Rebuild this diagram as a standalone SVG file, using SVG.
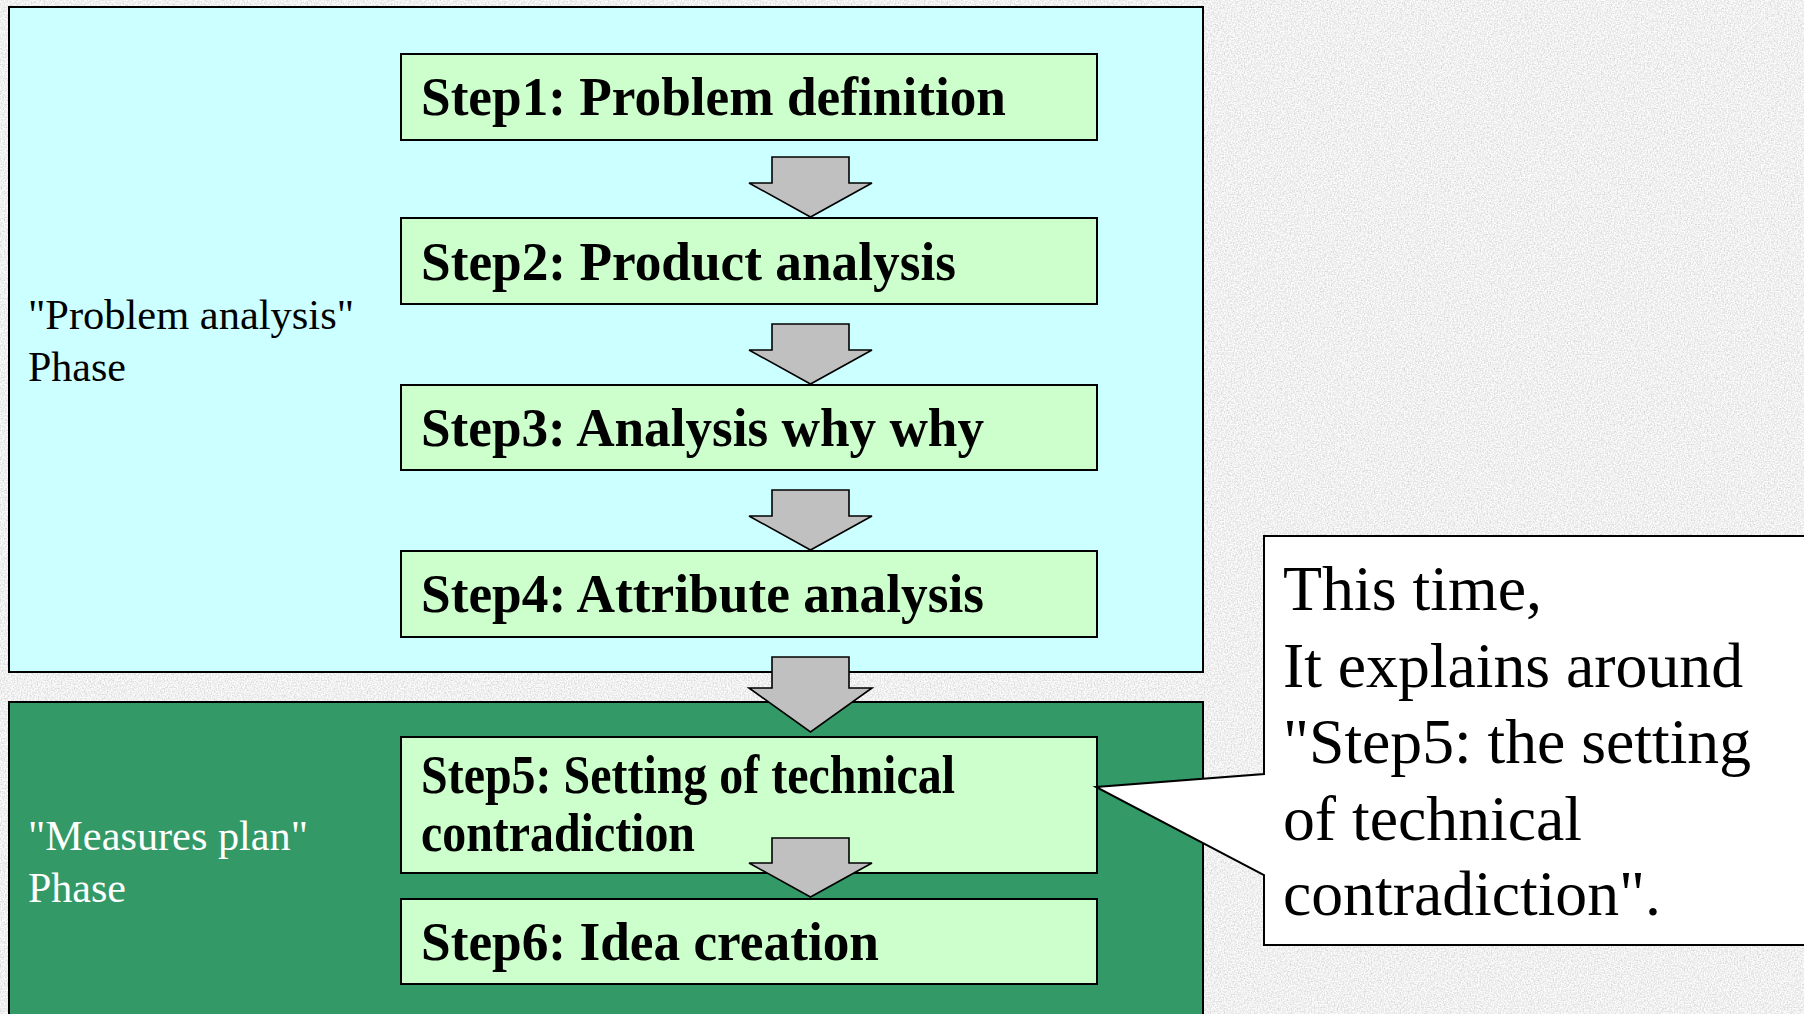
<svg xmlns="http://www.w3.org/2000/svg" width="1804" height="1014" viewBox="0 0 1804 1014">
<defs>
<filter id="noise" x="0" y="0" width="100%" height="100%">
<feTurbulence type="fractalNoise" baseFrequency="0.7" numOctaves="2" seed="3" result="t"/>
<feColorMatrix in="t" type="matrix" values="0.6 0 0 0 0.57  0.6 0 0 0 0.57  0.6 0 0 0 0.57  0 0 0 0 1"/>
</filter>
</defs>
<style>
.phase{stroke:#000;stroke-width:2}
.step rect{fill:#ccffcc;stroke:#000;stroke-width:2}
.st{font-family:"Liberation Serif","Times New Roman",serif;font-weight:bold;font-size:54px;fill:#000}
.pl{font-family:"Liberation Serif","Times New Roman",serif;font-size:42px}
.ct{font-family:"Liberation Serif","Times New Roman",serif;font-size:63px;fill:#000}
.ar{fill:#c0c0c0;stroke:#000;stroke-width:1.6;stroke-linejoin:miter}
</style>
<rect x="0" y="0" width="1804" height="1014" fill="#e0e0e0"/>
<rect x="0" y="0" width="1804" height="1014" filter="url(#noise)"/>

<g id="phase-problem">
<rect class="phase" x="9" y="7" width="1194" height="665" fill="#ccffff"/>
<text class="pl" fill="#000" x="28" y="329" textLength="326" lengthAdjust="spacingAndGlyphs">"Problem analysis"</text>
<text class="pl" fill="#000" x="28" y="381">Phase</text>
</g>
<g id="phase-measures">
<rect class="phase" x="9" y="702" width="1194" height="330" fill="#339966"/>
<text class="pl" fill="#fff" x="28" y="850" textLength="280" lengthAdjust="spacingAndGlyphs">"Measures plan"</text>
<text class="pl" fill="#fff" x="28" y="902">Phase</text>
</g>

<g id="step1" class="step"><rect x="401" y="54" width="696" height="86"/><text class="st" x="421" y="115" textLength="585" lengthAdjust="spacingAndGlyphs">Step1: Problem definition</text></g>
<g id="step2" class="step"><rect x="401" y="218" width="696" height="86"/><text class="st" x="421" y="280" textLength="535" lengthAdjust="spacingAndGlyphs">Step2: Product analysis</text></g>
<g id="step3" class="step"><rect x="401" y="385" width="696" height="85"/><text class="st" x="421" y="446" textLength="563" lengthAdjust="spacingAndGlyphs">Step3: Analysis why why</text></g>
<g id="step4" class="step"><rect x="401" y="551" width="696" height="86"/><text class="st" x="421" y="612" textLength="563" lengthAdjust="spacingAndGlyphs">Step4: Attribute analysis</text></g>
<g id="step5" class="step"><rect x="401" y="737" width="696" height="136"/><text class="st" x="421" y="793" textLength="534" lengthAdjust="spacingAndGlyphs">Step5: Setting of technical</text><text class="st" x="421" y="851" textLength="274" lengthAdjust="spacingAndGlyphs">contradiction</text></g>
<g id="step6" class="step"><rect x="401" y="899" width="696" height="85"/><text class="st" x="421" y="960" textLength="458" lengthAdjust="spacingAndGlyphs">Step6: Idea creation</text></g>

<g id="connectors">
<polygon class="ar" points="772,157 849,157 849,183 872,183 810.5,217 749,183 772,183"/>
<polygon class="ar" points="772,324 849,324 849,350 872,350 810.5,384 749,350 772,350"/>
<polygon class="ar" points="772,490 849,490 849,516 872,516 810.5,550 749,516 772,516"/>
<polygon class="ar" points="772,657 849,657 849,688 872,688 810.5,732 749,688 772,688"/>
<polygon class="ar" points="772,838 849,838 849,863 872,863 810.5,897 749,863 772,863"/>
</g>

<g id="callout">
<path d="M1264,536 H1812 V945 H1264 V875 L1096,787 L1264,774 Z" fill="#fff" stroke="#000" stroke-width="2"/>
<text class="ct" x="1283" y="610" textLength="259" lengthAdjust="spacingAndGlyphs">This time,</text>
<text class="ct" x="1283" y="687" textLength="460" lengthAdjust="spacingAndGlyphs">It explains around</text>
<text class="ct" x="1283" y="763" textLength="468" lengthAdjust="spacingAndGlyphs">"Step5: the setting</text>
<text class="ct" x="1283" y="840" textLength="299" lengthAdjust="spacingAndGlyphs">of technical</text>
<text class="ct" x="1283" y="915" textLength="378" lengthAdjust="spacingAndGlyphs">contradiction".</text>
</g>
</svg>
